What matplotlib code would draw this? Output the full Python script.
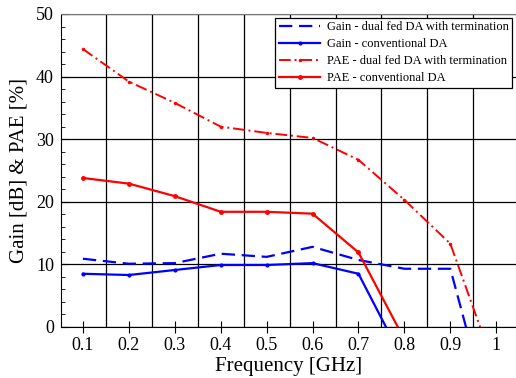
import matplotlib
matplotlib.use("Agg")
import matplotlib.pyplot as plt
import numpy as np

plt.rcParams["font.family"] = ["Liberation Serif", "DejaVu Serif"]

FREQ = [0.1, 0.2, 0.3, 0.4, 0.5, 0.6, 0.7, 0.8, 0.9, 1.0]
GAIN_DUAL = [10.9, 10.1, 10.2, 11.7, 11.2, 12.8, 10.7, 9.3, 9.3, -18.0]
GAIN_CONV = [8.5, 8.3, 9.1, 9.9, 9.9, 10.2, 8.5, -5.7]
PAE_DUAL = [44.4, 39.2, 35.8, 32.0, 31.0, 30.2, 26.7, 20.3, 13.3, -7.2]
PAE_CONV = [23.8, 22.9, 20.9, 18.4, 18.4, 18.1, 11.9, -2.0]

LABELS = ["Gain - dual fed DA with termination", "Gain - conventional DA",
          "PAE - dual fed DA with termination", "PAE - conventional DA"]

fig = plt.figure(figsize=(5.16, 3.78), dpi=100)
ax = fig.add_axes([0.118, 0.135, 0.882, 0.828])

ax.plot(FREQ, GAIN_DUAL, color="#0000ff", lw=1.6, dashes=(6, 3), label=LABELS[0])
ax.plot(FREQ[:len(GAIN_CONV)], GAIN_CONV, color="#0000ff", lw=1.6, marker="o", ms=2,
        label=LABELS[1])
ax.plot(FREQ, PAE_DUAL, color="#ff0000", lw=1.4, dashes=(6, 2, 1, 2), marker="o", ms=1.5,
        label=LABELS[2])
ax.plot(FREQ[:len(PAE_CONV)], PAE_CONV, color="#ff0000", lw=1.6, marker="o", ms=2.5,
        label=LABELS[3])

ax.set_xlim(0.052, 1.043)
ax.set_ylim(0, 50)
ax.set_xticks(FREQ)
ax.set_xticklabels(["0.1", "0.2", "0.3", "0.4", "0.5", "0.6", "0.7", "0.8", "0.9", "1"])
ax.set_xticks(np.arange(0.15, 1.0, 0.1), minor=True)
ax.set_yticks(np.arange(0, 51, 10))
ax.set_yticks(np.arange(0, 51, 2), minor=True)

ax.tick_params(axis="x", which="major", direction="inout", length=8, width=0.8, labelsize=13)
ax.tick_params(axis="x", which="minor", length=0)
ax.tick_params(axis="y", which="major", direction="in", length=5, width=0.8, labelsize=13,
               pad=5)
ax.tick_params(axis="y", which="minor", direction="in", length=3, width=0.6)

ax.grid(True, axis="x", which="minor", color="black", lw=0.9)
ax.grid(True, axis="y", which="major", color="black", lw=0.9)

ax.spines["right"].set_visible(False)
ax.spines["top"].set_color("#777777")

ax.set_xlabel("Frequency [GHz]", fontsize=15, labelpad=2)
ax.set_ylabel("Gain [dB] & PAE [%]", fontsize=15, labelpad=5)

leg = ax.legend(loc="upper right", fontsize=9, handlelength=3.3, fancybox=False,
                framealpha=1, edgecolor="black", borderpad=0.3, labelspacing=0.4,
                handletextpad=0.5, borderaxespad=0.3)
leg.get_frame().set_linewidth(0.9)

fig.savefig("out.png", dpi=100)
